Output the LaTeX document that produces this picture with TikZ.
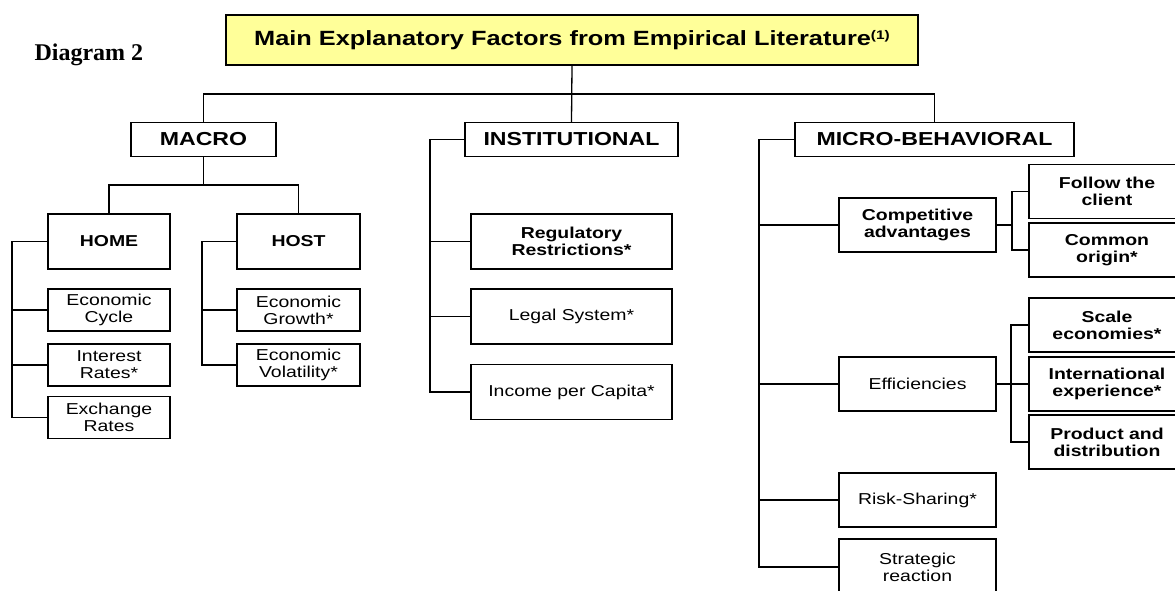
\documentclass[tikz,border=0pt]{standalone}
\usepackage{fontspec}
\setmainfont{Liberation Sans}[FakeStretch=1.23]
\newfontfamily\serifbold{Liberation Serif}[BoldFont={* Bold}]
\definecolor{titleyellow}{RGB}{255,255,153}

\begin{document}
\begin{tikzpicture}[x=1pt, y=-1pt,
  box/.style={draw, line width=1.4pt, align=center, inner sep=0pt,
              font=\fontsize{15.8}{17}\selectfont},
  bbox/.style={box, font=\fontsize{15.8}{17}\selectfont\bfseries},
  head/.style={box, minimum height=34, font=\fontsize{18.8}{20}\selectfont\bfseries},
  small/.style={minimum width=122, minimum height=42},
  mid/.style={minimum width=201, minimum height=55},
  micro/.style={minimum width=157, minimum height=54},
  side/.style={minimum width=156, minimum height=54},
  link/.style={line width=1.3pt}]
\useasboundingbox (0,0) rectangle (1175,590);

\node[anchor=base west, font=\fontsize{24}{24}\selectfont\serifbold\bfseries] (diag) at (31,60) {Diagram 2};

\node[box, fill=titleyellow, minimum width=692, minimum height=50,
      font=\fontsize{20.6}{22}\selectfont\bfseries] (title) at (572,40)
  {Main Explanatory Factors from Empirical Literature\raisebox{6pt}{\fontsize{12.5}{13}\selectfont(1)}};

\node[head, minimum width=145] (macro) at (203.5,139.5) {MACRO};
\node[head, minimum width=213] (inst) at (571.5,139.5) {INSTITUTIONAL};
\node[head, minimum width=279] (micro) at (934.5,139.5) {MICRO-BEHAVIORAL};

\node[bbox, minimum width=122, minimum height=55] (home) at (109,241.5) {HOME};
\node[bbox, minimum width=123, minimum height=55] (host) at (298.5,241.5) {HOST};

\node[box, small] (cycle) at (109,310) {Economic\\Cycle};
\node[box, small] (interest) at (109,365) {Interest\\Rates*};
\node[box, small] (exchange) at (109,417.5) {Exchange\\Rates};
\node[box, small, minimum width=123] (growth) at (298.5,310) {Economic\\Growth*};
\node[box, small, minimum width=123] (volat) at (298.5,365) {Economic\\Volatility*};

\node[bbox, mid] (regul) at (571.5,241.5) {Regulatory\\Restrictions*};
\node[box, mid] (legal) at (571.5,316.5) {Legal System*};
\node[box, mid] (income) at (571.5,392) {Income per Capita*};

\node[bbox, micro] (compet) at (917.5,225) {Competitive\\advantages};
\node[box, micro] (effic) at (917.5,384) {Efficiencies};
\node[box, micro] (risk) at (917.5,500) {Risk-Sharing*};
\node[box, micro, minimum height=56] (strat) at (917.5,567) {Strategic\\reaction};

\node[bbox, side] (follow) at (1107,191.5) {Follow the\\client};
\node[bbox, side] (common) at (1107,250) {Common\\origin*};
\node[bbox, side] (scale) at (1107,325) {Scale\\economies*};
\node[bbox, side] (intl) at (1107,384) {International\\experience*};
\node[bbox, side] (prod) at (1107,442) {Product and\\distribution};

\coordinate (hub) at (572,94);
\coordinate (mhub) at (203.5,185);
\coordinate (homebar) at (12,241.5);
\coordinate (hostbar) at (202,241.5);
\coordinate (instbar) at (430,139.5);
\coordinate (microbar) at (759,139.5);
\coordinate (competbar) at (1012,225);
\coordinate (efficbar) at (1011,384);

\draw[link] (title.south) -- (inst.north);
\draw[link] (macro.north) |- (hub) -| (micro.north);
\draw[link] (macro.south) -- (mhub);
\draw[link] (home.north) |- (mhub) -| (host.north);

\draw[link] (home.west) -- (homebar) |- (exchange.west);
\draw[link] (host.west) -- (hostbar) |- (volat.west);
\draw[link] (inst.west) -- (instbar) |- (income.west);
\draw[link] (micro.west) -- (microbar) |- (strat.west);
\foreach \n in {cycle,interest} \draw[link] (\n.west) -- (homebar |- \n.west);
\draw[link] (growth.west) -- (hostbar |- growth.west);
\foreach \n in {regul,legal} \draw[link] (\n.west) -- (instbar |- \n.west);
\foreach \n in {compet,effic,risk} \draw[link] (\n.west) -- (microbar |- \n.west);

\draw[link] (compet.east) -- (competbar);
\draw[link] (follow.west) -| (competbar) |- (common.west);
\draw[link] (effic.east) -- (efficbar);
\draw[link] (scale.west) -| (efficbar) |- (prod.west);
\draw[link] (intl.west) -- (efficbar |- intl.west);
\end{tikzpicture}
\end{document}
